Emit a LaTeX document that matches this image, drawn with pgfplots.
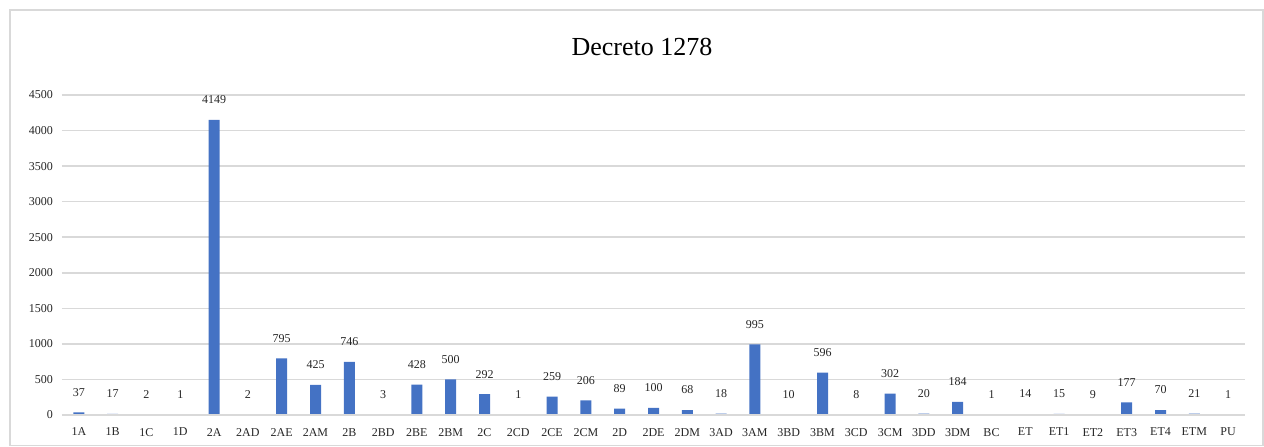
\documentclass[border=0pt]{standalone}
\usepackage{pgfplots}
\pgfplotsset{compat=1.18}
\usepackage{fontspec}
\setmainfont{Liberation Serif}
\definecolor{barblue}{HTML}{4472C4}
\definecolor{gridgray}{HTML}{D9D9D9}
\begin{document}
\begin{tikzpicture}
\useasboundingbox (-31pt,-15.5pt) rectangle (601pt,207.5pt);
\draw[gridgray, line width=0.6pt] (-26pt,-15.3pt) rectangle (600.5pt,202.5pt);
\begin{axis}[
  at={(0,0)}, anchor=south west,
  scale only axis, width=591.5pt, height=160pt,
  ymin=0, ymax=4500, ytick={0,500,...,4500},
  xmin=-0.5, xmax=34.5,
  xtick={0,...,34},
  xticklabels={1A,1B,1C,1D,2A,2AD,2AE,2AM,2B,2BD,2BE,2BM,2C,2CD,2CE,2CM,2D,2DE,2DM,3AD,3AM,3BD,3BM,3CD,3CM,3DD,3DM,BC,ET,ET1,ET2,ET3,ET4,ETM,PU},
  axis line style={draw=none},
  ymajorgrids, grid style={gridgray, line width=0.8pt},
  major tick length=0pt,
  tick label style={font=\fontsize{6}{7}\selectfont, text=black!85},
  yticklabel style={xshift=-1pt},
  xticklabel style={yshift=-3pt},
  /pgf/number format/assume math mode=true,
  /pgf/number format/1000 sep={},
  ybar, bar width=5.5pt, bar shift=0pt,
  nodes near coords,
  every node near coord/.append style={font=\fontsize{6}{7}\selectfont, text=black!85, yshift=4.5pt},
  clip=false,
]
\addplot[fill=barblue, draw=none] coordinates {
(0,37) (1,17) (2,2) (3,1) (4,4149) (5,2) (6,795) (7,425) (8,746) (9,3)
(10,428) (11,500) (12,292) (13,1) (14,259) (15,206) (16,89) (17,100) (18,68) (19,18)
(20,995) (21,10) (22,596) (23,8) (24,302) (25,20) (26,184) (27,1) (28,14) (29,15)
(30,9) (31,177) (32,70) (33,21) (34,1)
};
\draw[gridgray, line width=0.8pt] (axis cs:-0.5,0) -- (axis cs:34.5,0);
\end{axis}
\node[font=\fontsize{13}{15}\selectfont] at (290pt,184pt) {Decreto 1278};
\end{tikzpicture}
\end{document}
